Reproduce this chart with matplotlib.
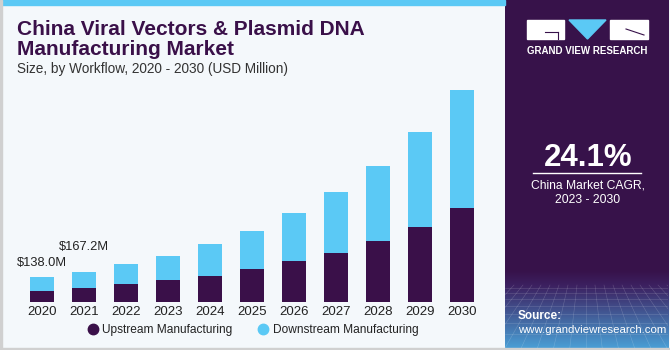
import numpy as np
import matplotlib
matplotlib.use("Agg")
import matplotlib.pyplot as plt
from matplotlib.patches import Rectangle, Polygon
from matplotlib.lines import Line2D

# data (USD Million)
years = ["2020", "2021", "2022", "2023", "2024", "2025", "2026", "2027", "2028", "2029", "2030"]
upstream = [62, 78, 99, 121, 147, 185, 228, 274, 342, 422, 525]
downstream = [76, 89.2, 114, 138, 178, 214, 269, 340, 421, 530, 662]
labels = {0: "$138.0M", 1: "$167.2M"}

purple = "#3a1049"
cyan = "#5bc9f5"
bg = "#f4f8fb"
panel = "#37124a"

plt.rcParams['font.family'] = ['Liberation Sans', 'DejaVu Sans']

W, H = 670, 350
fig = plt.figure(figsize=(W / 100, H / 100), dpi=100)
fig.patch.set_facecolor(bg)

def px(x, y, w, h):
    return [x / W, 1 - (y + h) / H, w / W, h / H]

# frame bits
fig.patches.append(Rectangle((0, 1 - 5 / H), 505 / W, 5 / H, transform=fig.transFigure,
                             color=cyan, zorder=0))
fig.patches.append(Rectangle((0, 0), 1, 2 / H, transform=fig.transFigure, color="#d0d0d0"))
fig.patches.append(Rectangle((0, 0), 1.5 / W, 1, transform=fig.transFigure, color="#d0d0d0"))

# right panel with gradient at the bottom
pax = fig.add_axes(px(505, 0, 163, 348))
n = 348
grad = np.zeros((n, 1, 3))
c_top = np.array(matplotlib.colors.to_rgb(panel))
c_mid = np.array(matplotlib.colors.to_rgb("#3c2060"))
c_bot = np.array(matplotlib.colors.to_rgb("#4aa0d6"))
for i in range(n):
    if i < 270:
        grad[i, 0] = c_top
    elif i < 285:
        t = (i - 270) / 15
        grad[i, 0] = c_top * (1 - t) + c_mid * t
    else:
        t = (i - 285) / (n - 285)
        grad[i, 0] = c_mid * (1 - t) + c_bot * t
pax.imshow(grad, aspect="auto", extent=(0, 163, 348, 0))
# faint grid texture
for k in range(0, 170, 9):
    pax.plot([k, 81 + (k - 81) * 1.8], [285, 348], color="white", lw=0.4, alpha=0.2)
for yy in [288, 293, 299, 306, 314, 323, 334]:
    pax.plot([0, 163], [yy, yy], color="white", lw=0.4, alpha=0.2)
pax.set_xlim(0, 163)
pax.set_ylim(348, 0)
pax.axis("off")

# logo
pax.add_patch(Rectangle((22, 20), 37, 19, color="white"))
pax.add_patch(Rectangle((105, 20), 38, 19, color="white"))
pax.add_patch(Polygon([(64, 20), (101, 20), (82.5, 39)], color=cyan))
pax.plot([40, 53], [32, 32], color=panel, lw=0.8)
pax.plot([53, 53], [32, 39], color=panel, lw=0.8)
pax.plot([121, 139], [29, 35], color=panel, lw=0.8)
pax.text(82.5, 51, "GRAND VIEW RESEARCH", color="white", fontsize=7,
         fontweight="bold", ha="center", va="center")

pax.text(83, 166, "24.1%", color="white", fontsize=22.5, fontweight="bold",
         ha="center", va="baseline")
pax.plot([28, 136], [173, 173], color="white", lw=1)
pax.text(83, 185, "China Market CAGR,", color="white", fontsize=8.7, ha="center", va="center")
pax.text(83, 200, "2023 - 2030", color="white", fontsize=8.7, ha="center", va="center")
pax.text(13, 316, "Source:", color="white", fontsize=8.5, fontweight="bold", va="center")
pax.text(13, 330, "www.grandviewresearch.com", color="white", fontsize=8.2, va="center")

# titles
fig.text(17 / W, 1 - 35 / H, "China Viral Vectors & Plasmid DNA", color=purple,
         fontsize=15, fontweight="bold", va="baseline")
fig.text(17 / W, 1 - 55 / H, "Manufacturing Market", color=purple,
         fontsize=15, fontweight="bold", va="baseline")
fig.text(17 / W, 1 - 73 / H, "Size, by Workflow, 2020 - 2030 (USD Million)", color="#333333",
         fontsize=9.8, va="baseline")

# main chart
ax = fig.add_axes(px(0, 79, 504, 223))
ax.set_facecolor("none")
x = np.arange(len(years))
ax.bar(x, upstream, width=0.57, color=purple, edgecolor="none")
ax.bar(x, downstream, width=0.57, bottom=upstream, color=cyan, edgecolor="none")
for i, txt in labels.items():
    tot = upstream[i] + downstream[i]
    off = 10.5 if i == 0 else 18
    ax.annotate(txt, (i, tot), xytext=(0, off), textcoords="offset points",
                ha="center", va="center", fontsize=9.3, color="#222222")
ax.set_xlim(-1, 11)
ax.set_ylim(0, 1250)
ax.set_xticks(x)
ax.set_xticklabels(years, fontsize=9.5, color="#222222")
ax.tick_params(axis="x", length=0, pad=3)
ax.set_yticks([])
for s in ax.spines.values():
    s.set_visible(False)

handles = [Line2D([], [], marker="o", ls="", color=purple, markersize=7.5),
           Line2D([], [], marker="o", ls="", color=cyan, markersize=7.5)]
fig.legend(handles, ["Upstream Manufacturing", "Downstream Manufacturing"],
           loc="center", bbox_to_anchor=(252 / W, 1 - 330 / H), ncol=2, frameon=False,
           fontsize=8.6, handletextpad=0.2, columnspacing=2.0, handlelength=1.2,
           labelcolor="#222222")

fig.savefig("out.png", dpi=100, facecolor=fig.get_facecolor())
